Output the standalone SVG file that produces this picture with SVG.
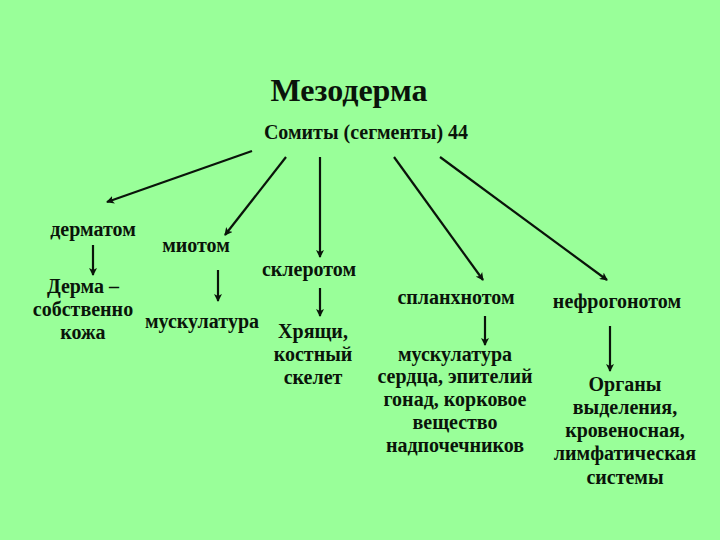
<svg xmlns="http://www.w3.org/2000/svg" width="720" height="540" viewBox="0 0 720 540">
<style>
text{font-family:"Liberation Serif","Times New Roman",serif;font-weight:bold;fill:#0a140a;text-anchor:middle}
.t{font-size:32px}
.s{font-size:20px}
.l{font-size:20px}
.c line{stroke:#0a140a;stroke-width:2.2;marker-end:url(#a)}
</style>
<defs>
<marker id="a" markerWidth="8" markerHeight="8" refX="7" refY="4" orient="auto" markerUnits="userSpaceOnUse" viewBox="0 0 8 8">
<path d="M0,0 L8,4 L0,8 L2,4 Z" fill="#0a140a"/>
</marker>
</defs>
<rect width="720" height="540" fill="#99ff99"/>
<g id="title"><text class="t" x="349" y="101">Мезодерма</text></g>
<g id="somity"><text class="s" x="366" y="139">Сомиты (сегменты) 44</text></g>
<g id="dermatom"><text class="l" x="93" y="236">дерматом</text></g>
<g id="derma"><text class="l" x="83" y="293">Дерма –</text><text class="l" x="83" y="316">собственно</text><text class="l" x="83" y="339">кожа</text></g>
<g id="miotom"><text class="l" x="196" y="252">миотом</text></g>
<g id="muskulatura"><text class="l" x="202" y="328">мускулатура</text></g>
<g id="sklerotom"><text class="l" x="309" y="276">склеротом</text></g>
<g id="skelet"><text class="l" x="313" y="338">Хрящи,</text><text class="l" x="313" y="361">костный</text><text class="l" x="313" y="384">скелет</text></g>
<g id="splanhnotom"><text class="l" x="456" y="304">спланхнотом</text></g>
<g id="splanh-out"><text class="l" x="455" y="361">мускулатура</text><text class="l" x="455" y="383">сердца, эпителий</text><text class="l" x="455" y="406">гонад, корковое</text><text class="l" x="455" y="429">вещество</text><text class="l" x="455" y="452">надпочечников</text></g>
<g id="nefrogonotom"><text class="l" x="617" y="308">нефрогонотом</text></g>
<g id="organy"><text class="l" x="625" y="391">Органы</text><text class="l" x="625" y="414">выделения,</text><text class="l" x="625" y="437">кровеносная,</text><text class="l" x="625" y="460">лимфатическая</text><text class="l" x="625" y="484">системы</text></g>
<g class="c" id="connectors">
<line x1="252" y1="151" x2="107" y2="202"/>
<line x1="286" y1="157" x2="225" y2="235"/>
<line x1="320" y1="157" x2="320" y2="257"/>
<line x1="394" y1="157" x2="483" y2="280"/>
<line x1="440" y1="157" x2="607" y2="280"/>
<line x1="93" y1="245" x2="93" y2="275"/>
<line x1="218" y1="270" x2="218" y2="301"/>
<line x1="320" y1="288" x2="320" y2="316"/>
<line x1="485" y1="316" x2="485" y2="345"/>
<line x1="610" y1="326" x2="610" y2="371"/>
</g>
</svg>
